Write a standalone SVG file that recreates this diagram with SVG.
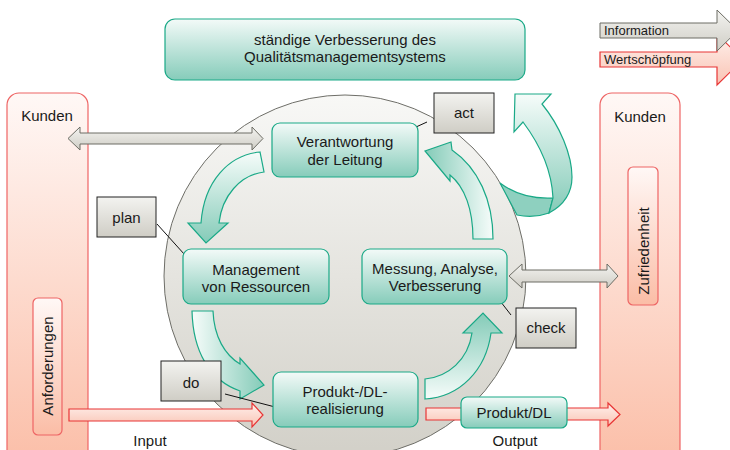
<svg xmlns="http://www.w3.org/2000/svg" width="730" height="450" viewBox="0 0 730 450">
<defs>
<linearGradient id="gTeal" x1="0" y1="0" x2="0" y2="1"><stop offset="0" stop-color="#f3faf8"/><stop offset="1" stop-color="#86ccba"/></linearGradient>
<linearGradient id="gRed" x1="0" y1="0" x2="0" y2="1"><stop offset="0" stop-color="#fff8f6"/><stop offset="1" stop-color="#fbbda6"/></linearGradient>
<linearGradient id="gRedArrow" x1="0" y1="0" x2="0" y2="1"><stop offset="0" stop-color="#fff1ed"/><stop offset="1" stop-color="#f9c3b3"/></linearGradient>
<linearGradient id="gGray" x1="0" y1="0" x2="0" y2="1"><stop offset="0" stop-color="#f3f3f0"/><stop offset="1" stop-color="#cfcdc5"/></linearGradient>
<linearGradient id="gCircle" x1="0" y1="0" x2="0" y2="1"><stop offset="0" stop-color="#f8f8f6"/><stop offset="1" stop-color="#d2d0c8"/></linearGradient>
<linearGradient id="gDown" x1="0" y1="0" x2="0" y2="1"><stop offset="0" stop-color="#f6fcfa"/><stop offset="1" stop-color="#84cbb8"/></linearGradient>
<linearGradient id="gUp" x1="0" y1="1" x2="0" y2="0"><stop offset="0" stop-color="#f6fcfa"/><stop offset="1" stop-color="#84cbb8"/></linearGradient>
<linearGradient id="gRight" x1="0" y1="0" x2="1" y2="0"><stop offset="0" stop-color="#f6fcfa"/><stop offset="1" stop-color="#84cbb8"/></linearGradient>
<linearGradient id="gLeft" x1="1" y1="0" x2="0" y2="0"><stop offset="0" stop-color="#f6fcfa"/><stop offset="1" stop-color="#84cbb8"/></linearGradient>
<style>
text{font-family:"Liberation Sans",Arial,sans-serif;font-size:15px;fill:#1a1a1a;text-anchor:middle}
.teal{fill:url(#gTeal);stroke:#1aa987;stroke-width:1.2}
.kunden{fill:url(#gRed);stroke:#ee6464;stroke-width:1.2}
.lbl{fill:url(#gGray);stroke:#222;stroke-width:1}
.garrow{fill:url(#gGray);stroke:#6c6c64;stroke-width:1}
.rarrow{fill:url(#gRedArrow);stroke:#e83535;stroke-width:1.2}
.carrow{stroke:#1aa987;stroke-width:1.2}
.ln{stroke:#111;stroke-width:1;fill:none}
.leg{font-size:13px;text-anchor:start}
</style>
</defs>

<g id="kunden-links">
<rect class="kunden" x="7" y="93" width="81" height="380" rx="12"/>
<text x="47" y="121">Kunden</text>
</g>
<g id="anforderungen">
<rect class="kunden" x="33" y="298" width="29" height="137" rx="5"/>
<text transform="rotate(-90 48 366)" x="48" y="371">Anforderungen</text>
</g>
<g id="kunden-rechts">
<rect class="kunden" x="600" y="93" width="80" height="380" rx="12"/>
<text x="640" y="122">Kunden</text>
</g>
<g id="zufriedenheit">
<rect class="kunden" x="628" y="167" width="30" height="138" rx="5"/>
<text transform="rotate(-90 644 251)" x="644" y="256">Zufriedenheit</text>
</g>

<g id="kreis">
<circle cx="345" cy="276" r="181" fill="url(#gCircle)" stroke="#6e6e68" stroke-width="1"/>
</g>

<g id="legende">
<g id="legende-wertschoepfung">
<polygon class="rarrow" points="600,52 717,52 717,34 743,59.5 717,85 717,67 600,67"/>
<text class="leg" x="604" y="64">Wertschöpfung</text>
</g>
<g id="legende-information">
<polygon class="garrow" points="600,23 717,23 717,10 738,30.5 717,51 717,38 600,38"/>
<text class="leg" x="604" y="35">Information</text>
</g>
</g>

<g id="connectors">
<polygon class="garrow" points="68,138.5 80,127 80,133 252,133 252,127 263,138.5 252,150 252,144 80,144 80,150"/>
<polygon class="garrow" points="509,276 522,264 522,270 607,270 607,264 618,276 607,288 607,282 522,282 522,288"/>
<polygon class="rarrow" points="69,409 252,409 252,403 263,415 252,427 252,421 69,421"/>
<polygon class="rarrow" points="426,408 608,408 608,403 620,414.5 608,426 608,420 426,420"/>
<path class="carrow" fill="url(#gDown)" d="M260,152 C229,155 204,181 201,223 L188,223 L206,243 L228,223 L219,223 C222,196 240,175 264,172 Z"/>
<path class="carrow" fill="url(#gRight)" d="M192,311 L213,311 C214,337 225,355 240,364 L240,358 L264,385 L240,399 L240,391 C209,380 193,351 192,311 Z"/>
<path class="carrow" fill="url(#gUp)" d="M425,379 C448,377 468,360 472,333 L463,333 L483,313 L502,333 L491,333 C486,370 460,397 425,399 Z"/>
<path class="carrow" fill="url(#gLeft)" d="M473,239 L493,239 C493,200 478,168 452,150 L451,142 L425,151 L450,181 L450,175 C465,187 473,210 473,239 Z"/>
<path class="carrow" fill="#8ed0bf" d="M500,183 C516,195 535,199 553,198 L549,213 C538,217 526,217 517,215 Z"/>
<path class="carrow" fill="url(#gDown)" d="M553,198 C552,176 544,150 523,122 L514,132 L515,94 L551,94 L542,104 C560,126 572,155 572,177 C572,195 562,206 549,213 Z"/>
<line class="ln" x1="405" y1="132" x2="427" y2="122"/>
<line class="ln" x1="157" y1="224" x2="194" y2="265"/>
<line class="ln" x1="225" y1="394" x2="279" y2="408"/>
<line class="ln" x1="497" y1="297" x2="511" y2="315"/>
</g>

<g id="verbesserung">
<rect class="teal" x="165" y="19" width="360" height="61" rx="10"/>
<text x="345" y="45">ständige Verbesserung des</text>
<text x="345" y="62">Qualitätsmanagementsystems</text>
</g>
<g id="verantwortung">
<rect class="teal" x="272" y="123" width="146" height="54" rx="8"/>
<text x="345" y="147">Verantwortung</text>
<text x="345" y="165">der Leitung</text>
</g>
<g id="management">
<rect class="teal" x="183" y="249" width="146" height="55" rx="8"/>
<text x="256" y="275">Management</text>
<text x="256" y="292">von Ressourcen</text>
</g>
<g id="messung">
<rect class="teal" x="362" y="249" width="145" height="55" rx="8"/>
<text x="435" y="274">Messung, Analyse,</text>
<text x="435" y="291">Verbesserung</text>
</g>
<g id="realisierung">
<rect class="teal" x="273" y="372" width="145" height="55" rx="8"/>
<text x="345" y="397">Produkt-/DL-</text>
<text x="345" y="414">realisierung</text>
</g>
<g id="produkt-dl">
<rect class="teal" x="461" y="397" width="106" height="31" rx="6"/>
<text x="514" y="418">Produkt/DL</text>
</g>
<g id="act">
<rect class="lbl" x="434" y="93" width="60" height="40"/>
<text x="464" y="118">act</text>
</g>
<g id="plan">
<rect class="lbl" x="97" y="197" width="59" height="40"/>
<text x="126.5" y="223">plan</text>
</g>
<g id="do">
<rect class="lbl" x="161" y="361" width="60" height="40"/>
<text x="191" y="388">do</text>
</g>
<g id="check">
<rect class="lbl" x="516" y="308" width="60" height="40"/>
<text x="546" y="333">check</text>
</g>
<g id="input"><text x="150" y="446">Input</text></g>
<g id="output"><text x="515" y="446">Output</text></g>
</svg>
